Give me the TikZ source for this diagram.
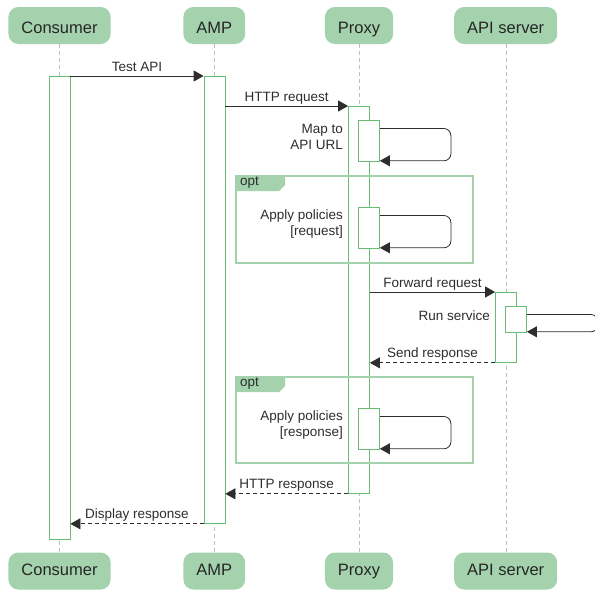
\documentclass[tikz,border=0pt]{standalone}
\usepackage{fontspec}
\setmainfont{Liberation Sans}
\usepackage{tikz}
\usetikzlibrary{positioning,calc,arrows.meta}
\definecolor{actgreen}{RGB}{163,210,172}
\definecolor{bargreen}{RGB}{104,188,116}
\definecolor{txtgray}{RGB}{45,45,45}

\begin{document}
\begin{tikzpicture}[x=1pt, y=-1pt,
  actor/.style={fill=actgreen, rounded corners=10pt, minimum height=37pt, inner xsep=13pt,
                text height=12pt, text depth=3.5pt,
                font=\fontsize{16.5}{19}\selectfont, text=black!85},
  headactor/.style={actor, text height=15pt, text depth=0pt},
  life/.style={draw=black!25, dash pattern=on 4pt off 3pt},
  bar/.style={draw=bargreen, line width=0.8pt, fill=white, minimum width=21pt, anchor=north, inner sep=0pt},
  frame/.style={draw=actgreen, line width=1.5pt, anchor=north west, minimum width=237pt, inner sep=0pt},
  msg/.style={draw=txtgray, line width=0.8pt, -{Triangle[length=10pt,width=11pt]}},
  reply/.style={msg, dash pattern=on 4pt off 3pt},
  lbl/.style={font=\fontsize{13.5}{16}\selectfont, text=txtgray, inner sep=0pt},
  above/.style={anchor=base, yshift=5pt},
  side/.style={lbl, align=right, anchor=north east}
]
  \useasboundingbox (0,0) rectangle (595,590);

  % Actors, top and bottom, with lifelines
  \foreach \nm/\txt/\x in {cons/Consumer/59.5, amp/AMP/214.3, prox/Proxy/359, api/API server/505.7}{
    \node[headactor] (\nm) at (\x,25.5) {\txt};
    \node[actor] (\nm-b) at (\x,571) {\txt};
    \draw[life] (\nm.south) -- (\nm-b.north);
  }

  % Activation bars
  \node[bar, minimum height=463pt] (consbar) at (59.5,76) {};
  \node[bar, minimum height=447pt] (ampbar) at (214.5,76) {};
  \node[bar, minimum height=387pt] (proxbar) at (359,106) {};
  \node[bar, minimum height=70pt] (apibar) at (506,292) {};
  \node[bar, minimum height=41pt] (mapbar) at (369,120) {};
  \node[bar, minimum height=41pt] (reqbar) at (369,207) {};
  \node[bar, minimum height=26pt] (runbar) at (516,306) {};
  \node[bar, minimum height=41pt] (resbar) at (369,408) {};

  % opt frames
  \node[frame, minimum height=87pt] (opt1) at (235,175) {};
  \node[frame, minimum height=86pt] (opt2) at (235,376) {};
  \foreach \f in {opt1, opt2}{
    \fill[actgreen] (\f.north west) -- ++(50,0) -- ++(0,10) -- ++(-6,6) -- ++(-44,0) -- cycle;
    \node[lbl, anchor=west] (\f-tag) at ($(\f.north west)+(5,8)$) {opt};
  }

  % Messages
  \draw[msg] (consbar.north east) -- (ampbar.north west)
    node[lbl, above, midway] {Test API};
  \draw[msg] (ampbar.east |- proxbar.north) -- (proxbar.north west)
    node[lbl, above, midway] {HTTP request};
  \draw[msg] (proxbar.east |- apibar.north) -- (apibar.north west)
    node[lbl, above, midway] {Forward request};
  \draw[reply] (apibar.south west) -- (proxbar.east |- apibar.south)
    node[lbl, above, midway] {Send response};
  \draw[reply] (proxbar.south west) -- (ampbar.east |- proxbar.south)
    node[lbl, above, midway] {HTTP response};
  \draw[reply] (ampbar.south west) -- (consbar.east |- ampbar.south)
    node[lbl, above, midway] {Display response};

  % Self calls
  \foreach \b in {mapbar, reqbar, runbar, resbar}{
    \draw[msg, rounded corners=7pt] ($(\b.north east)+(0,8.5)$) -- ++(71,0)
      |- ($(\b.south east)+(0,-1)$);
  }
  \node[side] (maplbl) at ($(mapbar.north west)+(-15,4)$) {Map to\\API URL};
  \node[side] (reqlbl) at ($(reqbar.north west)+(-15,3)$) {Apply policies\\{[}request{]}};
  \node[side] (runlbl) at ($(runbar.north west)+(-15,5)$) {Run service};
  \node[side] (reslbl) at ($(resbar.north west)+(-15,3)$) {Apply policies\\{[}response{]}};
\end{tikzpicture}
\end{document}
